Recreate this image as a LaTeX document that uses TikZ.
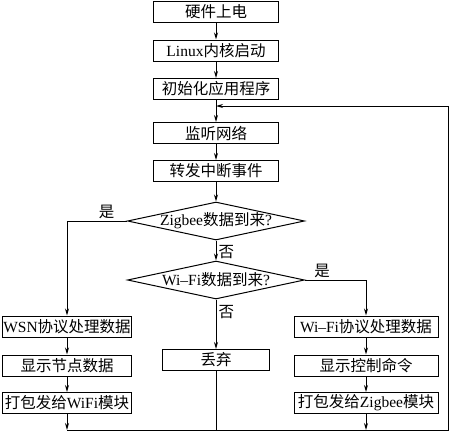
\documentclass[tikz,border=0pt]{standalone}
\usepackage{fontspec}
\setmainfont{Liberation Serif}
\newfontfamily\cjk{Noto Sans CJK SC}
\usetikzlibrary{shapes.geometric,arrows.meta}
\newcommand{\latn}[1]{{\rmfamily #1}}
\tikzset{
  box/.style={draw, minimum height=21pt, inner sep=0pt, font=\cjk\fontsize{15.5}{16}\selectfont},
  decision/.style={draw, diamond, inner sep=-2pt, minimum width=177pt, minimum height=38pt, shape aspect=4.66, font=\cjk\fontsize{15.5}{16}\selectfont},
  lbl/.style={inner sep=2pt, font=\cjk\fontsize{15.5}{16}\selectfont},
}
\begin{document}
\begin{tikzpicture}[x=1pt, y=-1pt, line width=1pt, >={Stealth[length=7pt,width=4pt]}]
    \useasboundingbox (0,0) rectangle (450,434);

    % 主流程
    \node[box, minimum width=125pt] (power) at (216,12) {硬件上电};
    \node[box, minimum width=125pt] (kernel) at (216,50.5) {\latn{Linux}内核启动};
    \node[box, minimum width=125pt] (init) at (216,89) {初始化应用程序};
    \node[box, minimum width=125pt] (listen) at (216,133) {监听网络};
    \node[box, minimum width=125pt] (forward) at (216,171) {转发中断事件};

    % 判断
    \node[decision] (zig) at (216,221) {\latn{Zigbee}数据到来\latn{?}};
    \node[decision] (wifi) at (216,280) {\latn{Wi–Fi}数据到来\latn{?}};

    % Zigbee分支
    \node[box, minimum width=129pt] (wsn) at (67,326.5) {\latn{WSN}协议处理数据};
    \node[box, minimum width=129pt] (shownode) at (67,365.5) {显示节点数据};
    \node[box, minimum width=129pt] (packwifi) at (67,403) {打包发给\latn{WiFi}模块};

    % 丢弃
    \node[box, minimum width=107pt] (drop) at (216,360) {丢弃};

    % Wi-Fi分支
    \node[box, minimum width=144pt] (wfproto) at (366,326.5) {\latn{Wi–Fi}协议处理数据};
    \node[box, minimum width=144pt] (showcmd) at (366,365.5) {显示控制命令};
    \node[box, minimum width=144pt] (packzig) at (366,403) {打包发给\latn{Zigbee}模块};

    % 回路
    \coordinate (bl) at (67,430);
    \coordinate (br) at (448,430);
    \coordinate (tr) at (448,106);
    \coordinate (back) at (216,106);

    % 箭头
    \draw[->] (power) -- (kernel);
    \draw[->] (kernel) -- (init);
    \draw[->] (init) -- (listen);
    \draw[->] (listen) -- (forward);
    \draw[->] (forward) -- (zig);
    \draw[->] (zig) -- node[lbl, right, pos=0.6] {否} (wifi);
    \draw[->] (zig.west) -| node[lbl, above, pos=0.17] {是} (wsn.north);
    \draw[->] (wifi.east) -| node[lbl, above, pos=0.14] {是} (wfproto.north);
    \draw[->] (wifi) -- node[lbl, right, pos=0.25] {否} (drop);

    \draw[->] (wsn) -- (shownode);
    \draw[->] (shownode) -- (packwifi);
    \draw[->] (packwifi) -- (bl);

    \draw[->] (wfproto) -- (showcmd);
    \draw[->] (showcmd) -- (packzig);
    \draw[->] (packzig) -- (packzig.south |- bl);

    \draw (drop) -- (drop.south |- bl);
    \draw[->] (bl) -- (br) -- (tr) -- (back);
\end{tikzpicture}
\end{document}
